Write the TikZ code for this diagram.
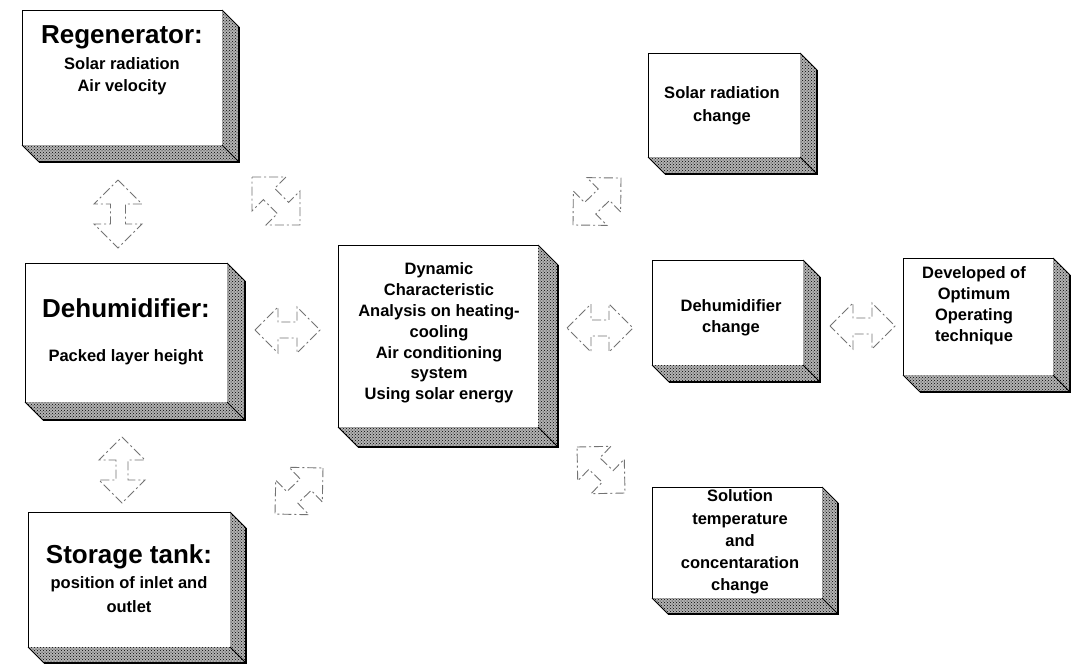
\documentclass[tikz,border=0pt]{standalone}
\usepackage{fontspec}
\setmainfont{Liberation Sans}
\usetikzlibrary{calc,patterns}

% 3D extrusion (right and bottom faces) of a box node
\newcommand\boxextrude[2]{%
  \fill[sidefill] (#1.north east) -- ($(#1.north east)+(#2,#2)$) -- ($(#1.south east)+(#2,#2)$)
     -- ($(#1.south west)+(#2,#2)$) -- (#1.south west) -- (#1.south east) -- cycle;
  \draw[sideedge] (#1.north east) -- ($(#1.north east)+(#2,#2)$);
  \draw[sideedge] (#1.south west) -- ($(#1.south west)+(#2,#2)$);
  \draw[sideedge] (#1.south east) -- ($(#1.south east)+(#2,#2)$);
  \draw[outeredge] ($(#1.north east)+(#2,#2)$) -- ($(#1.south east)+(#2,#2)$) -- ($(#1.south west)+(#2,#2)$);
}

% double block arrow between two named tip coordinates: #1,#2 tips, #3 head size, #4 half shaft
\newcommand\blockdbl[4]{%
  \draw[conn] (#1) -- ($(#1)!#3!(#2)!#3!90:(#2)$) -- ($(#1)!#3!(#2)!#4!90:(#2)$)
    -- ($(#2)!#3!(#1)!#4!-90:(#1)$) -- ($(#2)!#3!(#1)!#3!-90:(#1)$) -- (#2)
    -- ($(#2)!#3!(#1)!#3!90:(#1)$) -- ($(#2)!#3!(#1)!#4!90:(#1)$)
    -- ($(#1)!#3!(#2)!#4!-90:(#2)$) -- ($(#1)!#3!(#2)!#3!-90:(#2)$) -- cycle;
}

\begin{document}
\begin{tikzpicture}[x=1pt,y=-1pt,
  face/.style={draw=black,line width=0.8pt,fill=white,inner sep=0pt,outer sep=0pt},
  ttl/.style={font=\bfseries\fontsize{26}{30}\selectfont,inner sep=0pt,align=center},
  txt/.style={font=\bfseries\fontsize{16.5}{21.5}\selectfont,inner sep=0pt,align=center},
  sidefill/.style={preaction={fill=gray!60},pattern=crosshatch dots,pattern color=black},
  sideedge/.style={draw=black,line width=0.8pt},
  outeredge/.style={draw=black,line width=1.8pt,line join=miter},
  conn/.style={draw=black!55,line width=0.9pt,dash pattern=on 9pt off 3pt on 2pt off 3pt,line join=miter}
]
\useasboundingbox (0,0) rectangle (1075,664);
\fill[white] (0,0) rectangle (1075,664);

% ---- boxes (front faces)
\node[face,minimum width=200pt,minimum height=135pt] (reg) at (122,77.5) {};
\node[face,minimum width=202pt,minimum height=139pt] (deh) at (126,332.5) {};
\node[face,minimum width=202pt,minimum height=135pt] (sto) at (129,579.5) {};
\node[face,minimum width=200pt,minimum height=182pt] (cen) at (438,336) {};
\node[face,minimum width=152pt,minimum height=104pt] (src) at (724,105) {};
\node[face,minimum width=151pt,minimum height=105pt] (dhc) at (727.5,312.5) {};
\node[face,minimum width=150pt,minimum height=117pt] (dev) at (978,316.5) {};
\node[face,minimum width=170pt,minimum height=111pt] (sol) at (737,542.5) {};

\boxextrude{reg}{17}
\boxextrude{deh}{18}
\boxextrude{sto}{16}
\boxextrude{cen}{20}
\boxextrude{src}{17}
\boxextrude{dhc}{17}
\boxextrude{dev}{17}
\boxextrude{sol}{16}

% ---- texts
\node[ttl] (regT) at (122,37) {Regenerator:};
\node[txt] (regS) at (122,76) {Solar radiation\\Air velocity};
\node[ttl] (dehT) at (126,308) {Dehumidifier:};
\node[txt] (dehS) at (126,357) {Packed layer height};
\node[ttl] (stoT) at (129,557) {Storage tank:};
\node[txt,font=\bfseries\fontsize{16.5}{24}\selectfont] (stoS) at (129,595) {position of inlet and\\outlet};
\node[txt,font=\bfseries\fontsize{16.5}{20.8}\selectfont] (cenT) at (439,333) {Dynamic\\Characteristic\\Analysis on heating-\\cooling\\Air conditioning\\system\\Using solar energy};
\node[txt,font=\bfseries\fontsize{16.5}{23}\selectfont] (srcT) at (722,106) {Solar radiation\\change};
\node[txt] (dhcT) at (731,318) {Dehumidifier\\change};
\node[txt,font=\bfseries\fontsize{16.5}{21}\selectfont] (devT) at (974,306) {Developed of\\Optimum\\Operating\\technique};
\node[txt,font=\bfseries\fontsize{16.5}{22.2}\selectfont] (solT) at (740,542) {Solution\\temperature\\and\\concentaration\\change};

% ---- connector tips
\coordinate (a1s) at (118,180);  \coordinate (a1e) at (118,248);
\coordinate (a2s) at (122,437);  \coordinate (a2e) at (122,503);
\coordinate (a3s) at (255,330);  \coordinate (a3e) at (320,330);
\coordinate (a4s) at (567,328);  \coordinate (a4e) at (633,328);
\coordinate (a5s) at (830,326);  \coordinate (a5e) at (895,326);
\coordinate (a6s) at (252,177);  \coordinate (a6e) at (300,225);
\coordinate (a7s) at (323,468);  \coordinate (a7e) at (275,514);
\coordinate (a8s) at (573,225);  \coordinate (a8e) at (621,178);
\coordinate (a9s) at (577,447);  \coordinate (a9e) at (625,493);

% ---- double block arrows
\blockdbl{a1s}{a1e}{24pt}{7.5pt}
\blockdbl{a2s}{a2e}{23pt}{6pt}
\blockdbl{a3s}{a3e}{23pt}{8pt}
\blockdbl{a4s}{a4e}{24pt}{8pt}
\blockdbl{a5s}{a5e}{23pt}{8pt}
\blockdbl{a6s}{a6e}{24pt}{8pt}
\blockdbl{a7s}{a7e}{24pt}{8pt}
\blockdbl{a8s}{a8e}{24pt}{8pt}
\blockdbl{a9s}{a9e}{24pt}{8pt}
\end{tikzpicture}
\end{document}
